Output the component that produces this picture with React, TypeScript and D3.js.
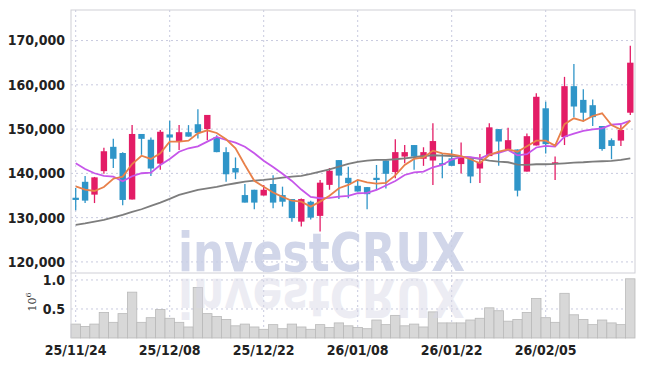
import * as d3 from 'd3'
import { useEffect, useRef } from 'react'

// trading days, 25/11/24 .. 26/02/23
const dates = [
  '25/11/24', '25/11/25', '25/11/26', '25/11/27', '25/11/28',
  '25/12/01', '25/12/02', '25/12/03', '25/12/04', '25/12/05',
  '25/12/08', '25/12/09', '25/12/10', '25/12/11', '25/12/12',
  '25/12/15', '25/12/16', '25/12/17', '25/12/18', '25/12/19',
  '25/12/22', '25/12/23', '25/12/24', '25/12/26', '25/12/29',
  '25/12/30', '26/01/02', '26/01/05', '26/01/06', '26/01/07',
  '26/01/08', '26/01/09', '26/01/12', '26/01/13', '26/01/14',
  '26/01/15', '26/01/16', '26/01/19', '26/01/20', '26/01/21',
  '26/01/22', '26/01/23', '26/01/26', '26/01/27', '26/01/28',
  '26/01/29', '26/01/30', '26/02/02', '26/02/03', '26/02/04',
  '26/02/05', '26/02/06', '26/02/09', '26/02/10', '26/02/11',
  '26/02/12', '26/02/13', '26/02/19', '26/02/20', '26/02/23',
]

const opens = [
  134500, 138100, 135200, 140500, 146000, 144600, 134100, 148900, 147600, 142200,
  148800, 147300, 149300, 151100, 150000, 148200, 144800, 141200, 135100, 136300,
  135000, 137600, 135100, 134200, 129100, 133600, 130400, 137400, 143000, 139000,
  137200, 136900, 139000, 142900, 140300, 143800, 146400, 143300, 142900, 142300,
  143400, 142100, 143400, 141100, 143900, 150000, 145400, 145400, 140400, 146300,
  154700, 142100, 148200, 159700, 156600, 155400, 150700, 147500, 147400, 153700,
]
const highs = [
  136700, 139400, 139200, 145800, 147800, 144800, 150900, 148900, 148100, 149800,
  151900, 150900, 150900, 154500, 153200, 148600, 145900, 143600, 137600, 136300,
  137400, 139600, 137000, 134200, 134300, 133800, 138500, 141200, 143000, 141500,
  138500, 136900, 141900, 142900, 147700, 146400, 146400, 145900, 151300, 144500,
  145400, 147000, 143400, 144400, 151300, 150000, 150300, 145400, 149000, 158100,
  156200, 143800, 161800, 164700, 159000, 156700, 150700, 147900, 150900, 168800,
]
const lows = [
  131700, 133300, 133300, 139900, 141200, 132800, 134100, 144200, 139400, 140800,
  144900, 145300, 148300, 147900, 147500, 144800, 138100, 138700, 133400, 131900,
  135000, 132100, 132500, 129100, 128000, 129600, 126900, 136300, 134200, 134400,
  135900, 131900, 136300, 136600, 138900, 142300, 140800, 141700, 137400, 138900,
  141700, 140000, 137800, 137800, 143900, 141700, 145400, 134800, 140400, 146300,
  144500, 138500, 146400, 152700, 151700, 150700, 145100, 143200, 146200, 153200,
]
const closes = [
  134000, 133850, 139100, 145000, 143300, 134000, 148900, 147800, 141100, 149400,
  148100, 149300, 148300, 149100, 153200, 144800, 139800, 140200, 133400, 133400,
  136300, 133400, 133600, 129900, 134200, 130000, 137900, 140600, 139500, 137800,
  135900, 135300, 138500, 139900, 144800, 144800, 143800, 144800, 147300, 141900,
  141700, 143900, 139300, 142600, 150400, 147200, 147500, 136100, 148400, 157300,
  146600, 142500, 159700, 155100, 153700, 152700, 145500, 146200, 149800, 165000,
]

// volume, millions of shares
const volumes = [
  0.24, 0.2, 0.24, 0.44, 0.27, 0.42, 0.79, 0.27, 0.35, 0.49,
  0.34, 0.27, 0.19, 0.87, 0.42, 0.37, 0.32, 0.21, 0.24, 0.19,
  0.15, 0.23, 0.16, 0.24, 0.19, 0.15, 0.23, 0.18, 0.26, 0.21,
  0.18, 0.16, 0.31, 0.23, 0.39, 0.21, 0.24, 0.19, 0.45, 0.26,
  0.26, 0.26, 0.31, 0.34, 0.52, 0.47, 0.29, 0.32, 0.44, 0.68,
  0.35, 0.27, 0.77, 0.4, 0.32, 0.23, 0.31, 0.26, 0.23, 1.02,
]

// moving averages
const maShort = [
  137050, 136330, 136030, 136930, 138790, 139260, 142120, 143980, 143260, 144540,
  147160, 147160, 147380, 149050, 149730, 149130, 147700, 145670, 141900, 138330,
  136990, 135690, 134680, 133820, 133620, 132490, 133620, 134950, 136640, 137390,
  138510, 137950, 137680, 137840, 139530, 141900, 143260, 143590, 145130, 144540,
  144270, 143890, 143190, 142280, 144160, 144900, 145400, 144900, 146120, 147380,
  147380, 146260, 151110, 152440, 151830, 152960, 153570, 150930, 149870, 151900,
]
const maMid = [
  142280, 141000, 140030, 139420, 139260, 138220, 139350, 140030, 140160, 141900,
  143260, 144900, 145670, 146120, 147160, 148220, 147540, 146930, 146030, 144540,
  142850, 141450, 139910, 138290, 136350, 134680, 134380, 134450, 134750, 134900,
  135510, 135580, 136260, 137270, 138290, 139640, 140210, 140390, 141380, 141900,
  143120, 143710, 143660, 143320, 144270, 144610, 145290, 144090, 144340, 145850,
  146230, 146030, 148290, 148970, 149620, 149960, 150180, 150990, 151150, 151900,
]
const maLong = [
  128360, 128700, 129100, 129490, 130050, 130620, 131290, 131900, 132650, 133390,
  134230, 135130, 135690, 136260, 136600, 136940, 137390, 137770, 138130, 138360,
  138520, 138740, 139030, 139260, 139420, 139870, 140390, 140930, 141520, 142130,
  142580, 142870, 143030, 143030, 143190, 143410, 143640, 143930, 144090, 144000,
  143930, 143770, 143550, 143260, 142870, 142650, 142510, 141970, 141900, 142060,
  142060, 142130, 142280, 142420, 142510, 142650, 142740, 142810, 143030, 143410,
]

const priceTicks = [120000, 130000, 140000, 150000, 160000, 170000]
const volumeTicks = [0.5, 1.0]
const dateTickIdx = [0, 10, 20, 30, 40, 50]

export default function App() {
  const svgRef = useRef<SVGSVGElement>(null)

  useEffect(() => {
    const svg = d3.select(svgRef.current)
    svg.selectAll('*').remove()

    const left = 71
    const right = 635
    const top = 10
    const priceBottom = 273
    const volBottom = 338
    const labelFont = "'Liberation Sans Narrow', 'DejaVu Sans Condensed', sans-serif"

    const x = d3.scaleBand<number>().domain(d3.range(dates.length)).range([left, right]).padding(0)
    const bw = x.bandwidth()
    const cx = (i: number) => (x(i) as number) + bw / 2
    const y = d3.scaleLinear().domain([117500, 176900]).range([priceBottom, top])
    const yv = d3.scaleLinear().domain([0, 1.12]).range([volBottom, priceBottom])

    svg.append('rect').attr('width', 645).attr('height', 366).attr('fill', '#fff')

    // grid
    const grid = svg.append('g').attr('stroke', '#c8cadf').attr('stroke-dasharray', '2,3').attr('stroke-width', 1)
    priceTicks.forEach((t) => {
      grid.append('line').attr('x1', left).attr('x2', right).attr('y1', y(t)).attr('y2', y(t))
    })
    volumeTicks.forEach((t) => {
      grid.append('line').attr('x1', left).attr('x2', right).attr('y1', yv(t)).attr('y2', yv(t))
    })
    dateTickIdx.forEach((i) => {
      grid.append('line').attr('x1', cx(i)).attr('x2', cx(i)).attr('y1', top).attr('y2', volBottom)
    })

    // watermark
    svg
      .append('text')
      .attr('x', 178)
      .attr('y', 271)
      .attr('textLength', 287)
      .attr('lengthAdjust', 'spacingAndGlyphs')
      .style('font-family', "'DejaVu Sans', sans-serif")
      .style('font-weight', 'bold')
      .style('font-size', '54px')
      .attr('fill', '#c9cfe6')
      .attr('opacity', 0.85)
      .text('investCRUX')

    // volume bars
    svg
      .append('g')
      .selectAll('rect')
      .data(volumes)
      .join('rect')
      .attr('x', (_, i) => x(i) as number)
      .attr('y', (d) => yv(d))
      .attr('width', bw)
      .attr('height', (d) => volBottom - yv(d))
      .attr('fill', '#d8d8d8')
      .attr('stroke', '#b9b9b9')
      .attr('stroke-width', 0.8)

    // reflection of watermark
    svg
      .append('text')
      .attr('x', 178)
      .attr('y', 271)
      .attr('transform', 'translate(0,550) scale(1,-1)')
      .attr('textLength', 287)
      .attr('lengthAdjust', 'spacingAndGlyphs')
      .style('font-family', "'DejaVu Sans', sans-serif")
      .style('font-weight', 'bold')
      .style('font-size', '54px')
      .attr('fill', '#d6d6e6')
      .attr('opacity', 0.45)
      .text('investCRUX')

    // frame
    svg.append('rect').attr('x', left).attr('y', top).attr('width', right - left).attr('height', priceBottom - top)
      .attr('fill', 'none').attr('stroke', '#cfcfd6')
    svg.append('line').attr('x1', left).attr('x2', left).attr('y1', priceBottom).attr('y2', volBottom).attr('stroke', '#cfcfd6')

    // candles
    const up = '#e31c66'
    const down = '#2f95c8'
    const cw = 6.4
    const candles = svg.append('g').selectAll('g').data(dates).join('g')
    candles
      .append('line')
      .attr('x1', (_, i) => cx(i))
      .attr('x2', (_, i) => cx(i))
      .attr('y1', (_, i) => y(highs[i]))
      .attr('y2', (_, i) => y(lows[i]))
      .attr('stroke', (_, i) => (closes[i] >= opens[i] ? up : down))
      .attr('stroke-width', 1.3)
    candles
      .append('rect')
      .attr('x', (_, i) => cx(i) - cw / 2)
      .attr('y', (_, i) => y(Math.max(opens[i], closes[i])))
      .attr('width', cw)
      .attr('height', (_, i) => Math.max(1.5, Math.abs(y(opens[i]) - y(closes[i]))))
      .attr('fill', (_, i) => (closes[i] >= opens[i] ? up : down))

    // moving averages
    const line = d3
      .line<number>()
      .x((_, i) => cx(i))
      .y((d) => y(d))
    ;[
      { data: maLong, color: '#7d7d7d' },
      { data: maMid, color: '#c656ea' },
      { data: maShort, color: '#e8804a' },
    ].forEach((s) => {
      svg.append('path').datum(s.data).attr('d', line).attr('fill', 'none').attr('stroke', s.color).attr('stroke-width', 1.8)
    })

    // axis labels
    svg
      .append('g')
      .selectAll('text')
      .data(priceTicks)
      .join('text')
      .attr('x', 65)
      .attr('y', (d) => y(d))
      .attr('dy', '0.35em')
      .attr('text-anchor', 'end')
      .style('font-family', labelFont)
      .style('font-weight', 'bold')
      .style('font-size', '14px')
      .attr('fill', '#222')
      .text((d) => d3.format(',')(d))

    svg
      .append('g')
      .selectAll('text')
      .data(volumeTicks)
      .join('text')
      .attr('x', 65)
      .attr('y', (d) => yv(d))
      .attr('dy', '0.35em')
      .attr('text-anchor', 'end')
      .style('font-family', labelFont)
      .style('font-weight', 'bold')
      .style('font-size', '14px')
      .attr('fill', '#222')
      .text((d) => d3.format('.1f')(d))

    const unit = svg
      .append('text')
      .attr('transform', 'translate(36,302) rotate(-90)')
      .attr('text-anchor', 'middle')
      .style('font-family', "'DejaVu Serif', serif")
      .style('font-size', '11px')
      .attr('fill', '#333')
    unit.append('tspan').text('10')
    unit.append('tspan').attr('dy', -5).style('font-size', '8px').text('6')

    svg
      .append('g')
      .selectAll('text')
      .data(dateTickIdx)
      .join('text')
      .attr('x', (d) => cx(d))
      .attr('y', 355)
      .attr('text-anchor', 'middle')
      .style('font-family', labelFont)
      .style('font-weight', 'bold')
      .style('font-size', '14px')
      .attr('fill', '#222')
      .text((d) => dates[d])
  }, [])

  return <svg ref={svgRef} width={645} height={366} style={{ position: 'absolute', left: 0, top: 0 }} />
}
